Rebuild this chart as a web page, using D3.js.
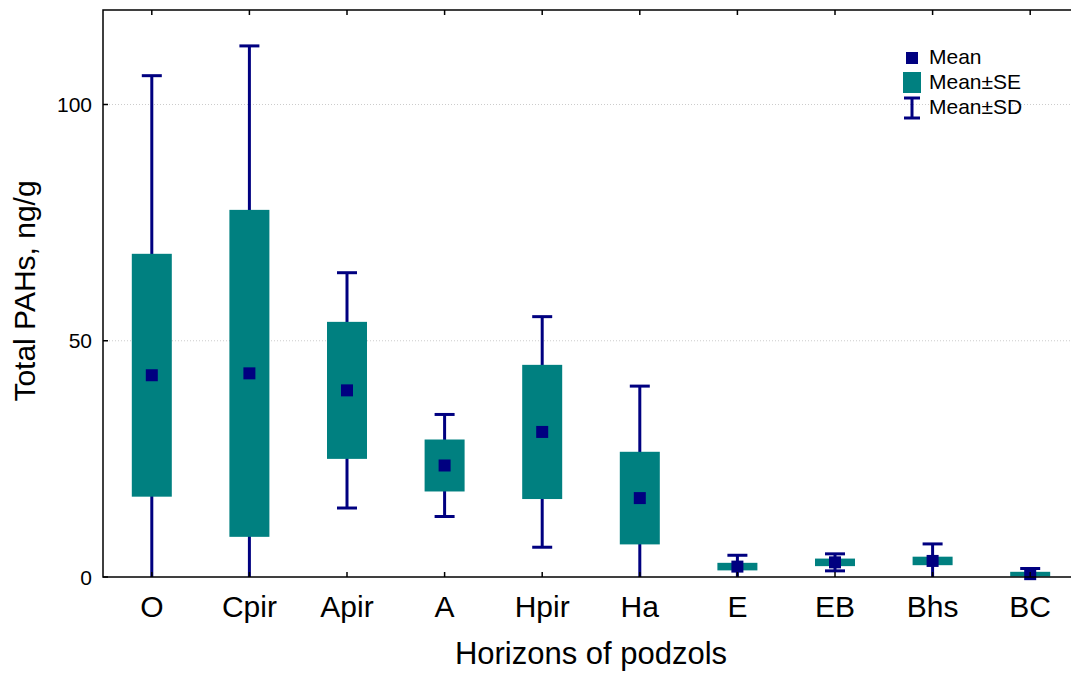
<!DOCTYPE html>
<html>
<head>
<meta charset="utf-8">
<script src="https://cdn.jsdelivr.net/npm/d3@7"></script>
<style>
body{margin:0;background:#fff;}
text{font-family:Arial,"Liberation Sans",sans-serif;fill:#000;}
</style>
</head>
<body>
<div id="chart"></div>
<script>
var horizons = ["O","Cpir","Apir","A","Hpir","Ha","E","EB","Bhs","BC"];
var means = [42.7, 43.1, 39.5, 23.6, 30.7, 16.7, 2.2, 3.1, 3.4, 0.6];
var se    = [25.7, 34.6, 14.5, 5.5, 14.2, 9.8, 0.8, 0.8, 0.9, 0.5];
var sd    = [63.4, 69.3, 24.9, 10.8, 24.4, 23.7, 2.4, 1.8, 3.6, 1.2];
var yTicks = [0, 50, 100];

(function(){
var W = 1071, H = 675;
var margin = {top:10, left:103, right:-8, bottom:98};
var width = W - margin.left - margin.right,
    height = H - margin.top - margin.bottom;

var svg = d3.select("#chart").append("svg")
  .attr("width", W).attr("height", H)
  .append("g")
  .attr("transform","translate("+margin.left+","+margin.top+")");

var x = d3.scaleBand().domain(horizons).range([0,width]);
var y = d3.scaleLinear().domain([0,120]).range([height,0]);

var data = horizons.map(function(h,i){
  return {h:h, m:means[i], se:se[i], sd:sd[i]};
});

// grid
svg.selectAll(".grid").data(yTicks.filter(function(d){return d>0;}))
  .enter().append("line")
  .attr("x1",0).attr("x2",width)
  .attr("y1",function(d){return y(d);}).attr("y2",function(d){return y(d);})
  .attr("stroke","#ccc").attr("stroke-width",1).attr("stroke-dasharray","1,2");

var cx = function(d){return x(d.h)+x.bandwidth()/2;};
var clip = function(v){return Math.max(0,v);};

// whiskers (mean +- sd)
svg.selectAll(".sd").data(data).enter().append("line")
  .attr("x1",cx).attr("x2",cx)
  .attr("y1",function(d){return y(d.m+d.sd);})
  .attr("y2",function(d){return y(clip(d.m-d.sd));})
  .attr("stroke","#000080").attr("stroke-width",3);
svg.selectAll(".capTop").data(data).enter().append("line")
  .attr("x1",function(d){return cx(d)-10;}).attr("x2",function(d){return cx(d)+10;})
  .attr("y1",function(d){return y(d.m+d.sd);}).attr("y2",function(d){return y(d.m+d.sd);})
  .attr("stroke","#000080").attr("stroke-width",3);
svg.selectAll(".capBot").data(data.filter(function(d){return d.m-d.sd>=0;})).enter().append("line")
  .attr("x1",function(d){return cx(d)-10;}).attr("x2",function(d){return cx(d)+10;})
  .attr("y1",function(d){return y(d.m-d.sd);}).attr("y2",function(d){return y(d.m-d.sd);})
  .attr("stroke","#000080").attr("stroke-width",3);

// SE boxes
svg.selectAll(".se").data(data).enter().append("rect")
  .attr("x",function(d){return cx(d)-20;}).attr("width",40)
  .attr("y",function(d){return y(d.m+d.se);})
  .attr("height",function(d){return y(clip(d.m-d.se))-y(d.m+d.se);})
  .attr("fill","#008080");

// means
svg.selectAll(".mean").data(data).enter().append("rect")
  .attr("x",function(d){return cx(d)-6;}).attr("y",function(d){return y(d.m)-6;})
  .attr("width",12).attr("height",12).attr("fill","#000080");

// frame
svg.append("rect").attr("x",0).attr("y",0).attr("width",width).attr("height",height)
  .attr("fill","none").attr("stroke","#000").attr("stroke-width",1.5);

// ticks
svg.selectAll(".xt").data(horizons).enter().append("line")
  .attr("x1",function(d){return x(d)+x.bandwidth()/2;}).attr("x2",function(d){return x(d)+x.bandwidth()/2;})
  .attr("y1",height).attr("y2",height-5).attr("stroke","#000").attr("stroke-width",1.5);
svg.selectAll(".xt2").data(horizons).enter().append("line")
  .attr("x1",function(d){return x(d)+x.bandwidth()/2;}).attr("x2",function(d){return x(d)+x.bandwidth()/2;})
  .attr("y1",0).attr("y2",5).attr("stroke","#000").attr("stroke-width",1.5);
svg.selectAll(".yt").data(yTicks).enter().append("line")
  .attr("x1",0).attr("x2",5)
  .attr("y1",function(d){return y(d);}).attr("y2",function(d){return y(d);})
  .attr("stroke","#000").attr("stroke-width",1.5);

svg.selectAll(".xl").data(horizons).enter().append("text")
  .attr("x",function(d){return x(d)+x.bandwidth()/2;}).attr("y",height+40)
  .attr("text-anchor","middle").style("font-size","30px").text(function(d){return d;});
svg.selectAll(".yl").data(yTicks).enter().append("text")
  .attr("x",-11).attr("y",function(d){return y(d)+7.5;})
  .attr("text-anchor","end").style("font-size","21px").text(function(d){return d;});

svg.append("text").attr("x",591-margin.left).attr("y",height+87)
  .attr("text-anchor","middle").style("font-size","31px").text("Horizons of podzols");
svg.append("text").attr("transform","translate(-68,"+(291-margin.top)+") rotate(-90)")
  .attr("text-anchor","middle").style("font-size","30px").text("Total PAHs, ng/g");

// legend
var lg = svg.append("g").attr("transform","translate("+(912-margin.left)+","+(-margin.top)+")");
lg.append("rect").attr("x",-6).attr("y",52).attr("width",12).attr("height",12).attr("fill","#000080");
lg.append("rect").attr("x",-9).attr("y",72).attr("width",18).attr("height",21).attr("fill","#008080");
lg.append("line").attr("x1",0).attr("x2",0).attr("y1",98).attr("y2",118).attr("stroke","#000080").attr("stroke-width",3);
lg.append("line").attr("x1",-8).attr("x2",8).attr("y1",98).attr("y2",98).attr("stroke","#000080").attr("stroke-width",3);
lg.append("line").attr("x1",-8).attr("x2",8).attr("y1",118).attr("y2",118).attr("stroke","#000080").attr("stroke-width",3);
[["Mean",64],["Mean\u00b1SE",89],["Mean\u00b1SD",114]].forEach(function(t){
  lg.append("text").attr("x",17).attr("y",t[1]).style("font-size","21px").text(t[0]);
});
})();
</script>
</body>
</html>
